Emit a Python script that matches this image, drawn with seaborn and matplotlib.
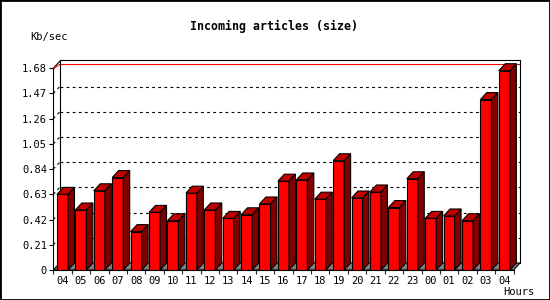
import numpy as np
import pandas as pd
import matplotlib
matplotlib.use("Agg")
import matplotlib.pyplot as plt
import seaborn as sns
from matplotlib.patches import Polygon, Rectangle

hours = ["04", "05", "06", "07", "08", "09", "10", "11", "12", "13", "14", "15",
         "16", "17", "18", "19", "20", "21", "22", "23", "00", "01", "02", "03", "04"]
kbps = [0.63, 0.50, 0.66, 0.77, 0.32, 0.48, 0.41, 0.64, 0.50, 0.43, 0.46, 0.55,
        0.74, 0.75, 0.59, 0.91, 0.60, 0.65, 0.52, 0.76, 0.43, 0.45, 0.41, 1.42, 1.66]
yticks = [0, 0.21, 0.42, 0.63, 0.84, 1.05, 1.26, 1.47, 1.68]
ytick_labels = ["0", "0.21", "0.42", "0.63", "0.84", "1.05", "1.26", "1.47", "1.68"]

sns.set_theme(style="white")
plt.rcParams['font.family'] = ['DejaVu Sans Mono', 'DejaVu Sans']

W, H = 550, 300
LW = 0.8
fig = plt.figure(figsize=(W / 100, H / 100), dpi=100)
fig.patch.set_facecolor("white")
ax = fig.add_axes([53.3 / W, 30 / H, (520 - 53.3) / W, 210 / H])
ax.set_facecolor("white")

n = len(hours)
DX, DY = 0.35, 0.058
YTOP = 1.749

df = pd.DataFrame({"slot": list(range(n)), "kbps": kbps})
sns.barplot(data=df, x="slot", y="kbps", width=0.6, color="#ff0000", saturation=1,
            edgecolor="black", linewidth=LW, ax=ax, zorder=5)

bars = list(ax.patches)
for p in bars:
    x0, w, h = p.get_x(), p.get_width(), p.get_height()
    side = Polygon([(x0 + w, 0), (x0 + w + DX, DY), (x0 + w + DX, h + DY), (x0 + w, h)],
                   closed=True, facecolor="#800000", edgecolor="black", lw=LW, zorder=5)
    top = Polygon([(x0, h), (x0 + DX, h + DY), (x0 + w + DX, h + DY), (x0 + w, h)],
                  closed=True, facecolor="#c00000", edgecolor="black", lw=LW, zorder=5)
    ax.add_patch(side)
    ax.add_patch(top)

# floor
floor = Polygon([(-0.5, 0), (n - 0.5, 0), (n - 0.5 + DX, DY), (-0.5 + DX, DY)],
                closed=True, facecolor="#808080", edgecolor="black", lw=LW, zorder=1,
                clip_on=False)
ax.add_patch(floor)

# back-wall grid
for v in yticks[1:-1]:
    ax.plot([-0.5 + DX, n - 0.5 + DX], [v + DY, v + DY], color="black", lw=LW,
            ls=(0, (2.5, 3)), zorder=2)
    ax.plot([-0.5, -0.5 + DX], [v, v + DY], color="black", lw=LW,
            ls=(0, (2.5, 3)), zorder=2, clip_on=False)
ax.plot([-0.5 + DX, n - 0.5 + DX], [1.713, 1.713], color="#ff0000", lw=LW, zorder=2)
ax.plot([-0.5, -0.5 + DX], [1.68, 1.68 + DY], color="black", lw=LW, zorder=3, clip_on=False)
ax.plot([-0.5 + 0.05, -0.5 + DX], [1.68, 1.713], color="#ff0000", lw=LW, zorder=3, clip_on=False)
ax.plot([-0.5 + DX, -0.5 + DX], [DY, YTOP], color="black", lw=LW, zorder=3)

ax.set_xlim(-0.5, n - 0.5 + DX)
ax.set_ylim(0, YTOP)

for s in ax.spines.values():
    s.set_visible(True)
    s.set_color("black")
    s.set_linewidth(LW)
ax.spines["left"].set_bounds(0, 1.68)
ax.spines["bottom"].set_bounds(-0.5, n - 0.5)
ax.spines["top"].set_bounds(-0.5 + DX, n - 0.5 + DX)
ax.spines["right"].set_bounds(DY, YTOP)

ax.set_yticks(yticks)
ax.set_yticklabels(ytick_labels)
ax.set_xticks(list(range(n)))
ax.set_xticklabels(hours)
ax.set_xticks([i - 0.5 for i in range(n + 1)], minor=True)
ax.tick_params(axis="y", which="major", direction="out", length=3, width=LW, pad=1.5,
               labelsize=7.5, colors="black", left=True)
ax.tick_params(axis="x", which="major", length=0, pad=4, labelsize=7.5, colors="black")
ax.tick_params(axis="x", which="minor", direction="out", length=3, width=LW, bottom=True)
ax.set_xlabel("")
ax.set_ylabel("")

fig.text(30 / W, 1 - 37 / H, "Kb/sec", fontsize=7.5, ha="left", va="center", color="black")
fig.text(534 / W, 1 - 292 / H, "Hours", fontsize=7.5, ha="right", va="center", color="black")
fig.text(274 / W, 1 - 26 / H, "Incoming articles (size)", fontsize=8.4, fontweight="bold",
         ha="center", va="center", color="black")

fig.patches.append(Rectangle((0, 0), 1, 1, transform=fig.transFigure, fill=False,
                             edgecolor="black", lw=2))

fig.savefig("out.png", dpi=100)
